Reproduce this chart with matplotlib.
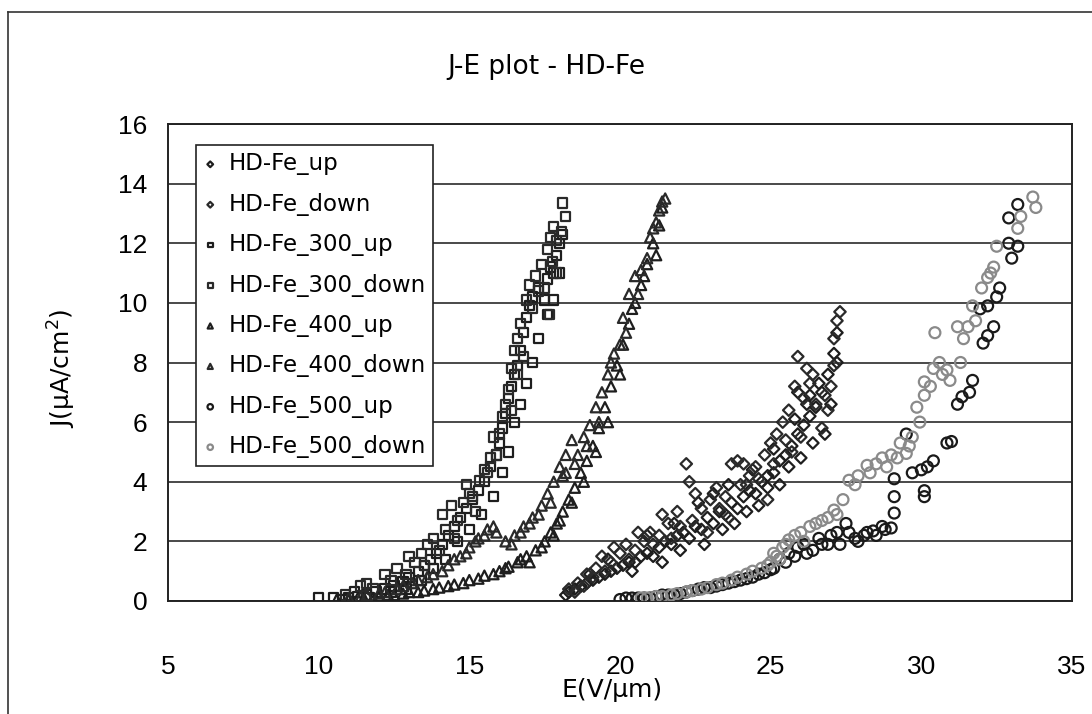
import matplotlib
matplotlib.use("Agg")
import matplotlib.pyplot as plt
from matplotlib.lines import Line2D

# ---- data: E (V/um) and J (uA/cm^2) for each sample run ----
e_hdfe_up = [18.2, 18.3, 18.5, 18.7, 18.9, 19.1, 19.3, 19.5, 19.7, 19.9, 20.1, 20.3, 20.5, 20.7,
             20.9, 21.1, 21.3, 21.5, 21.7, 21.9, 22.1, 22.3, 22.5, 22.7, 22.9, 23.1, 23.3, 23.5,
             23.7, 23.9, 24.1, 24.3, 24.5, 24.7, 24.9, 25.1, 25.3, 25.5, 25.7, 25.9, 26.1, 26.3,
             26.5, 26.7, 26.9, 27.1, 27.2,
             19.0, 19.6, 20.4, 20.9, 21.4, 21.8, 22.0, 22.6, 22.8, 23.1, 23.4, 23.6, 23.8, 24.2,
             24.4, 24.6, 24.9, 25.1, 25.3, 25.6, 25.8, 26.0, 26.2, 26.4, 26.6, 26.8, 27.0, 27.2,
             26.3, 25.9]
j_hdfe_up = [0.2, 0.3, 0.4, 0.5, 0.6, 0.7, 0.8, 0.9, 1.0, 1.1, 1.2, 1.3, 1.3, 1.5,
             1.6, 1.5, 1.8, 2.0, 1.9, 2.2, 2.3, 2.1, 2.5, 2.4, 2.8, 2.6, 3.0, 2.9,
             3.3, 3.1, 3.5, 3.7, 3.6, 4.0, 4.2, 4.3, 4.7, 4.9, 5.2, 5.6, 5.9, 6.2,
             6.5, 7.0, 7.6, 8.3, 9.0,
             0.9, 1.4, 1.0, 2.2, 1.3, 2.6, 1.7, 3.3, 1.9, 3.6, 2.4, 3.9, 2.6, 3.0,
             4.4, 3.2, 3.8, 5.1, 3.9, 4.5, 6.1, 4.8, 6.6, 5.3, 7.3, 5.6, 6.6, 8.0,
             6.9, 7.0]

e_hdfe_down = [18.3, 18.6, 18.9, 19.2, 19.4, 19.7, 20.0, 20.2, 20.5, 20.8, 21.0, 21.3, 21.6, 21.9,
               22.2, 22.3, 22.4, 22.7, 23.0, 23.2, 23.5, 23.7, 23.9, 24.1, 24.3, 24.5, 24.8, 25.0,
               25.2, 25.4, 25.6, 25.8, 25.9, 26.1, 26.3, 26.5, 26.7, 26.9, 27.0, 27.1, 27.2, 27.3,
               26.2, 25.5, 24.0,
               18.5, 18.8, 19.1, 19.5, 19.8, 20.3, 20.6, 21.1, 21.4, 21.7, 22.0, 22.5, 22.9, 23.3,
               23.6, 24.2, 24.6, 24.9, 25.1, 25.7, 26.0, 26.4, 26.8, 27.1]
j_hdfe_down = [0.4, 0.6, 0.9, 1.1, 1.5, 1.3, 1.6, 1.9, 1.7, 2.0, 2.3, 2.2, 2.6, 3.0,
               4.6, 4.0, 2.7, 3.1, 3.4, 3.8, 3.5, 4.6, 4.7, 4.6, 4.2, 4.5, 4.9, 5.3,
               5.6, 6.0, 6.4, 7.2, 8.2, 6.8, 7.3, 6.6, 5.8, 6.4, 7.2, 8.8, 9.4, 9.7,
               7.8, 5.4, 3.9,
               0.3, 0.5, 0.8, 1.0, 1.8, 1.4, 2.3, 1.9, 2.9, 2.1, 2.5, 3.6, 2.3, 3.1,
               2.8, 3.9, 4.1, 3.4, 4.6, 5.0, 5.5, 7.6, 6.9, 7.9]

e_300_up = [10.0, 10.5, 11.0, 11.3, 11.6, 11.9, 12.2, 12.5, 12.8, 13.0, 13.3, 13.5, 13.7, 13.9,
            14.1, 14.3, 14.5, 14.7, 14.9, 15.1, 15.3, 15.5, 15.7, 15.9, 16.0, 16.1, 16.2, 16.3,
            16.4, 16.5, 16.6, 16.7, 16.8, 16.9, 17.0, 17.1, 17.3, 17.5, 17.6, 17.7, 17.8, 17.9,
            18.0, 18.1,
            10.8, 11.2, 11.7, 12.4, 12.9, 13.4, 13.8, 14.2, 14.6, 15.0, 15.4, 15.8, 16.1, 16.3,
            16.5, 16.7, 16.9, 17.1, 17.3, 17.6, 17.8, 18.0]
j_300_up = [0.1, 0.1, 0.1, 0.15, 0.2, 0.3, 0.4, 0.5, 0.65, 0.8, 1.0, 1.2, 1.4, 1.6,
            1.9, 2.2, 2.5, 2.8, 3.1, 3.4, 3.7, 4.0, 4.5, 4.9, 5.3, 5.8, 6.3, 6.8,
            7.2, 7.6, 7.9, 8.4, 9.0, 9.5, 9.9, 10.2, 10.5, 10.1, 10.8, 11.2, 11.0, 11.6,
            12.0, 12.3,
            0.05, 0.3, 0.1, 0.3, 0.4, 0.7, 1.1, 1.4, 2.0, 2.4, 2.9, 3.5, 4.3, 5.0,
            6.0, 6.6, 7.3, 8.0, 8.8, 9.6, 10.1, 11.0]

e_300_down = [10.9, 11.4, 11.8, 12.2, 12.6, 12.9, 13.2, 13.4, 13.6, 13.8, 14.0, 14.2, 14.4, 14.6,
              14.8, 15.0, 15.1, 15.35, 15.5, 15.7, 15.9, 16.0, 16.2, 16.3, 16.4, 16.5, 16.6, 16.7,
              16.9, 17.0, 17.2, 17.4, 17.5, 17.6, 17.8, 17.9, 18.05, 18.1, 17.75, 18.2, 17.65,
              11.6, 12.4, 13.0, 13.5, 14.1, 14.5, 14.9, 15.2, 15.6, 15.8, 16.1, 16.4, 16.6, 16.8,
              17.1, 17.3, 17.7, 17.9]
j_300_down = [0.2, 0.5, 0.4, 0.9, 1.1, 0.9, 1.3, 1.6, 1.9, 2.1, 1.7, 2.4, 3.2, 2.7,
              3.3, 3.6, 3.5, 4.05, 4.4, 4.8, 4.9, 5.6, 6.6, 7.1, 7.8, 8.4, 8.8, 9.3,
              10.1, 10.6, 10.9, 11.3, 10.5, 11.8, 12.55, 12.1, 12.4, 13.35, 11.4, 12.9, 9.6,
              0.6, 0.7, 1.5, 1.2, 2.9, 2.1, 3.9, 3.0, 4.3, 5.5, 6.2, 6.4, 7.6, 8.2,
              9.8, 10.4, 12.2, 11.0]

e_400_up = [10.6, 11.0, 11.5, 12.0, 12.5, 13.0, 13.5, 14.0, 14.5, 15.0, 15.5, 16.0, 16.3, 16.6,
            16.9, 17.2, 17.5, 17.7, 17.9, 18.1, 18.3, 18.5, 18.7, 18.9, 19.1, 19.3, 19.5, 19.7,
            19.9, 20.1, 20.3, 20.5, 20.7, 20.9, 21.1, 21.3, 21.4,
            11.3, 11.8, 12.3, 12.8, 13.3, 13.8, 14.3, 14.8, 15.3, 15.8, 16.2, 16.7, 17.0, 17.4,
            17.8, 18.0, 18.4, 18.8, 19.2, 19.6, 20.0, 20.4, 20.8, 21.2]
j_400_up = [0.05, 0.05, 0.1, 0.15, 0.2, 0.3, 0.35, 0.45, 0.55, 0.7, 0.85, 1.0, 1.15, 1.3,
            1.5, 1.7, 2.0, 2.3, 2.6, 3.0, 3.4, 3.8, 4.3, 4.7, 5.2, 5.8, 6.5, 7.2,
            7.9, 8.6, 9.3, 10.0, 10.6, 11.3, 12.0, 12.6, 13.2,
            0.1, 0.1, 0.2, 0.25, 0.3, 0.4, 0.5, 0.6, 0.75, 0.9, 1.1, 1.4, 1.3, 1.8,
            2.2, 2.7, 3.3, 4.0, 5.0, 6.0, 7.6, 9.8, 10.9, 11.6]

e_400_down = [11.0, 11.6, 12.2, 12.8, 13.3, 13.8, 14.3, 14.7, 15.0, 15.3, 15.6, 15.9, 16.2, 16.5,
              16.8, 17.1, 17.4, 17.6, 17.8, 18.0, 18.2, 18.4, 18.2, 18.6, 18.8, 19.0, 19.2, 19.4,
              19.6, 19.8, 20.0, 20.1, 20.3, 20.5, 20.7, 20.9, 21.0, 21.2, 21.4, 21.5,
              11.4, 12.0, 12.6, 13.1, 13.6, 14.1, 14.5, 14.9, 15.2, 15.5, 15.8, 16.4, 16.7, 17.0,
              17.3, 17.7, 18.1, 18.5, 18.9, 19.3, 19.7, 20.2, 20.6, 21.1, 21.3]
j_400_down = [0.1, 0.2, 0.3, 0.5, 0.7, 0.9, 1.2, 1.5, 1.8, 2.1, 2.4, 2.3, 2.0, 2.2,
              2.5, 2.8, 3.2, 3.6, 4.0, 4.5, 4.9, 5.4, 4.3, 4.9, 5.5, 5.9, 6.5, 7.0,
              7.6, 8.3, 8.6, 9.5, 10.3, 10.9, 11.1, 11.5, 12.2, 12.7, 13.4, 13.5,
              0.15, 0.25, 0.4, 0.6, 0.8, 1.0, 1.4, 1.6, 2.0, 2.2, 2.5, 1.9, 2.3, 2.6,
              2.9, 3.3, 4.2, 4.6, 5.2, 6.0, 8.0, 9.0, 10.3, 12.5, 13.1]

e_500_up = [20.0, 20.4, 20.8, 21.2, 21.6, 22.0, 22.4, 22.8, 23.2, 23.6, 24.0, 24.4, 24.8, 25.1,
            25.3, 25.6, 25.9, 26.2, 26.6, 26.9, 27.2, 27.5, 27.8, 28.1, 28.4, 28.7, 29.0, 29.1,
            29.1, 29.1, 29.5, 29.7, 30.0, 30.1, 30.1, 30.2, 30.4, 30.85, 31.0, 31.2, 31.35, 31.6,
            31.7, 32.05, 32.2, 32.4, 31.95, 32.2, 32.5, 32.6, 33.0, 32.9, 33.2, 32.9, 33.2,
            20.2, 20.6, 21.0, 21.4, 21.8, 22.2, 22.6, 23.0, 23.4, 23.8, 24.2, 24.6, 25.0, 25.5,
            25.8, 26.1, 26.4, 26.7, 27.0, 27.3, 27.6, 27.9, 28.2, 28.5, 28.8]
j_500_up = [0.05, 0.1, 0.1, 0.15, 0.2, 0.25, 0.35, 0.45, 0.5, 0.6, 0.7, 0.8, 0.95, 1.1,
            1.4, 1.6, 1.8, 1.6, 2.1, 1.9, 2.3, 2.6, 2.1, 2.2, 2.35, 2.5, 2.45, 2.95,
            3.5, 4.1, 5.6, 4.3, 4.4, 3.7, 3.5, 4.5, 4.7, 5.3, 5.35, 6.6, 6.85, 7.0,
            7.4, 8.65, 8.9, 9.2, 9.8, 9.9, 10.2, 10.5, 11.5, 12.0, 11.9, 12.85, 13.3,
            0.1, 0.1, 0.1, 0.2, 0.2, 0.3, 0.4, 0.45, 0.55, 0.65, 0.75, 0.9, 1.05, 1.3,
            1.5, 1.9, 1.7, 1.9, 2.2, 1.9, 2.3, 2.0, 2.3, 2.2, 2.4]

e_500_down = [20.7, 21.2, 21.7, 22.2, 22.7, 23.2, 23.7, 24.2, 24.7, 25.0, 25.2, 25.4, 25.6, 26.0,
              26.3, 26.5, 26.9, 27.1, 27.4, 27.6, 27.9, 28.3, 28.2, 28.85, 28.7, 29.2, 29.5, 29.3,
              29.7, 29.95, 29.85, 30.1, 30.1, 30.4, 30.6, 30.85, 30.95, 31.3, 30.45, 31.4, 31.2,
              31.55, 31.7, 32.0, 32.2, 32.4, 32.5, 33.2, 33.7, 33.8,
              20.9, 21.4, 21.9, 22.4, 22.9, 23.4, 23.9, 24.4, 24.9, 25.1, 25.3, 25.5, 25.8, 26.1,
              26.7, 27.2, 27.8, 28.5, 29.0, 29.6, 30.3, 30.7, 31.8, 32.3, 33.3]
j_500_down = [0.1, 0.15, 0.2, 0.3, 0.4, 0.55, 0.7, 0.9, 1.1, 1.3, 1.5, 1.8, 2.05, 2.3,
              2.5, 2.6, 2.8, 3.05, 3.4, 4.05, 4.2, 4.3, 4.55, 4.5, 4.8, 4.8, 4.95, 5.3,
              5.5, 6.0, 6.5, 6.9, 7.35, 7.8, 8.0, 7.75, 7.4, 8.0, 9.0, 8.8, 9.2,
              9.2, 9.9, 10.5, 10.85, 11.2, 11.9, 12.5, 13.55, 13.2,
              0.1, 0.15, 0.25, 0.35, 0.45, 0.6, 0.8, 1.0, 1.2, 1.6, 1.4, 1.9, 2.2, 2.0,
              2.7, 2.9, 3.9, 4.6, 4.9, 5.2, 7.2, 7.6, 9.4, 11.0, 12.9]

labels = ["HD-Fe_up", "HD-Fe_down", "HD-Fe_300_up", "HD-Fe_300_down",
          "HD-Fe_400_up", "HD-Fe_400_down", "HD-Fe_500_up", "HD-Fe_500_down"]
x_ticks = [5, 10, 15, 20, 25, 30, 35]
y_ticks = [0, 2, 4, 6, 8, 10, 12, 14, 16]

series = [
    (e_hdfe_up, j_hdfe_up, "D", 34, "#1e1e1e"),
    (e_hdfe_down, j_hdfe_down, "D", 34, "#2a2a2a"),
    (e_300_up, j_300_up, "s", 44, "#1e1e1e"),
    (e_300_down, j_300_down, "s", 44, "#2a2a2a"),
    (e_400_up, j_400_up, "^", 54, "#1e1e1e"),
    (e_400_down, j_400_down, "^", 54, "#2a2a2a"),
    (e_500_up, j_500_up, "o", 62, "#1a1a1a"),
    (e_500_down, j_500_down, "o", 62, "#8a8a8a"),
]

fig = plt.figure(figsize=(10.92, 7.14), dpi=100, facecolor="white")
ax = fig.add_axes([168 / 1092, 1 - 601 / 714, (1072 - 168) / 1092, (601 - 124) / 714])

for (e, j, mk, sz, col), lab in zip(series, labels):
    ax.scatter(e, j, marker=mk, s=sz, facecolors="none", edgecolors=col,
               linewidths=1.6, label=lab, zorder=3)

ax.set_xlim(5, 35)
ax.set_ylim(0, 16)
ax.set_xticks(x_ticks)
ax.set_yticks(y_ticks)
ax.yaxis.grid(True, color="#3a3a3a", linewidth=1.3, zorder=1)
ax.set_axisbelow(True)
for sp in ax.spines.values():
    sp.set_color("#222222")
    sp.set_linewidth(1.4)

ax.tick_params(axis="x", length=0, pad=39, labelsize=19)
ax.tick_params(axis="y", length=0, pad=15, labelsize=19)
for lbl in ax.get_xticklabels() + ax.get_yticklabels():
    lbl.set_fontfamily("Liberation Sans")

# axis titles and chart title
fig.text(612 / 1092, 1 - 690 / 714, "E(V/μm)", ha="center", va="center", fontsize=18)
fig.text(62 / 1092, 1 - 368 / 714, "J(μA/cm$^2$)", ha="center", va="center",
         rotation=90, fontsize=18)
fig.text(546 / 1092, 1 - 67 / 714, "J-E plot - HD-Fe", ha="center", va="center", fontsize=19)

leg = ax.legend(loc="upper left", bbox_to_anchor=(0.031, 0.956), borderaxespad=0,
                fontsize=16.5, markerscale=0.5, handlelength=0.6, handletextpad=0.5,
                labelspacing=0.76, borderpad=0.32, fancybox=False, framealpha=1,
                edgecolor="#222222", scatterpoints=1)
leg.get_frame().set_linewidth(1.2)

# outer chart border (top and left edges)
fig.add_artist(Line2D([8 / 1092, 8 / 1092], [0, 1 - 12 / 714], transform=fig.transFigure,
                      color="#333333", linewidth=1.2))
fig.add_artist(Line2D([8 / 1092, 1], [1 - 12 / 714, 1 - 12 / 714], transform=fig.transFigure,
                      color="#333333", linewidth=1.2))

fig.savefig("out.png", dpi=100, facecolor="white")
